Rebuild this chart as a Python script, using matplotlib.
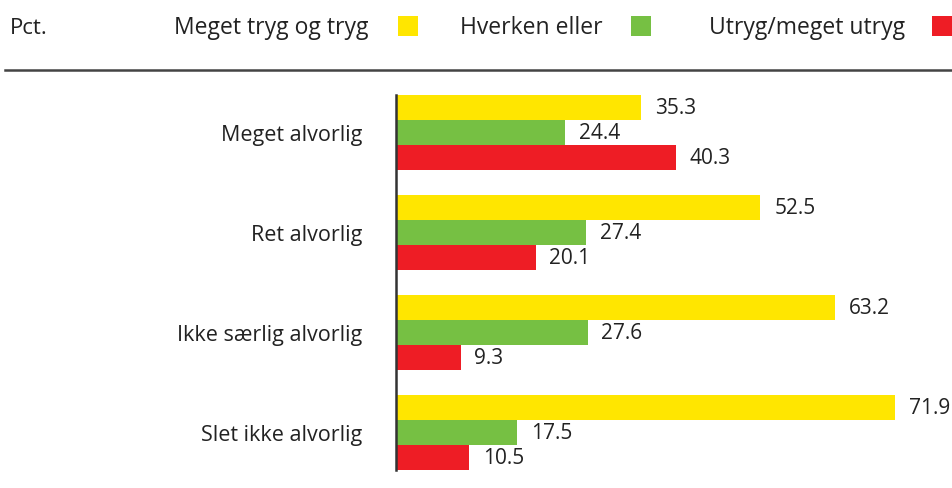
import matplotlib
matplotlib.use("Agg")
from matplotlib import pyplot as plt
from matplotlib.patches import Rectangle
from matplotlib.lines import Line2D
import numpy as np

plt.rcParams['font.family'] = ['Open Sans', 'DejaVu Sans']

categories = ["Meget alvorlig", "Ret alvorlig", "Ikke særlig alvorlig", "Slet ikke alvorlig"]
series_names = ["Meget tryg og tryg", "Hverken eller", "Utryg/meget utryg"]
tryg = [35.3, 52.5, 63.2, 71.9]
hverken = [24.4, 27.4, 27.6, 17.5]
utryg = [40.3, 20.1, 9.3, 10.5]

colors = ["#FFE600", "#76C043", "#EE1D25"]
text_color = "#222222"

W, H = 952, 489
fig = plt.figure(figsize=(W / 100, H / 100), dpi=100)

ax = fig.add_axes([396 / W, 1 - 471 / H, 1 - 396 / W, (471 - 96) / H])
y = np.arange(len(categories))
bar_h = 0.25
for off, vals, col in zip([-bar_h, 0, bar_h], [tryg, hverken, utryg], colors):
    bars = ax.barh(y + off, vals, height=bar_h, color=col, linewidth=0)
    for b, v in zip(bars, vals):
        ax.text(v + 2.0, b.get_y() + b.get_height() / 2, f"{v:.1f}",
                ha="left", va="center", fontsize=15, color=text_color)

ax.set_xlim(0, 80.1)
ax.set_ylim(len(categories) - 0.625, -0.375)
ax.set_yticks(y)
ax.set_yticklabels(categories, fontsize=15.5, color=text_color)
ax.tick_params(axis="y", length=0, pad=24)
ax.set_xticks([])
for s in ["top", "right", "bottom"]:
    ax.spines[s].set_visible(False)
ax.spines["left"].set_color("#333333")
ax.spines["left"].set_linewidth(1.8)

# header: unit label and legend
fig.text(10 / W, 1 - 28 / H, "Pct.", fontsize=16, color=text_color, ha="left", va="center")
legend_text_right = [368, 603, 905]
legend_box_left = [398, 631, 932]
for name, col, tx, bx in zip(series_names, colors, legend_text_right, legend_box_left):
    fig.text(tx / W, 1 - 28 / H, name, fontsize=16.5, color=text_color, ha="right", va="center")
    fig.add_artist(Rectangle((bx / W, 1 - 37 / H), 20 / W, 20 / H,
                             transform=fig.transFigure, color=col, linewidth=0))

fig.add_artist(Line2D([5 / W, 1], [1 - 71 / H, 1 - 71 / H], transform=fig.transFigure,
                      color="#444444", linewidth=1.8))

fig.savefig("out.png", dpi=100)
